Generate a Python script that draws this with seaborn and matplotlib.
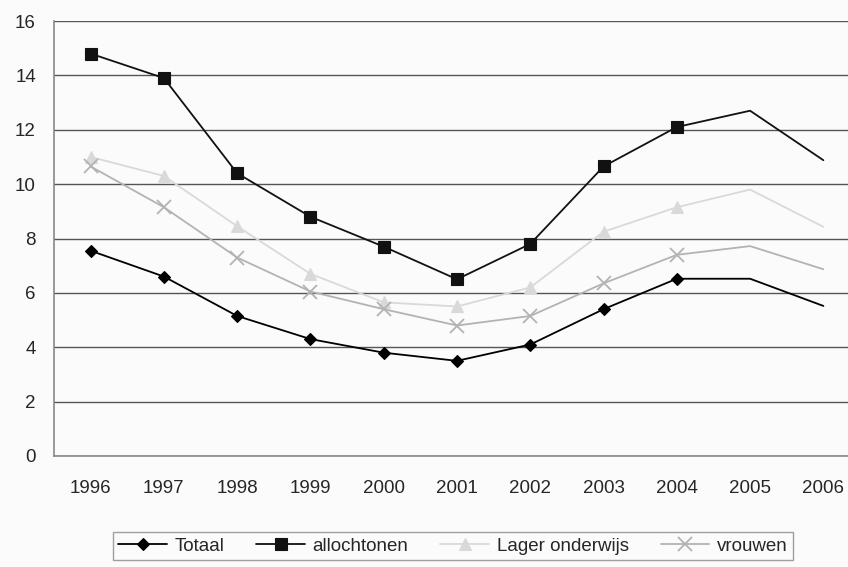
import pandas as pd
import matplotlib
matplotlib.use('Agg')
import matplotlib.pyplot as plt
import seaborn as sns

# Data
years = [1996, 1997, 1998, 1999, 2000, 2001, 2002, 2003, 2004, 2005, 2006]
totaal = [7.55, 6.6, 5.15, 4.3, 3.8, 3.5, 4.1, 5.4, 6.52, 6.52, 5.52]
allochtonen = [14.8, 13.9, 10.4, 8.8, 7.7, 6.5, 7.8, 10.65, 12.1, 12.7, 10.88]
lager_onderwijs = [11.0, 10.3, 8.45, 6.7, 5.65, 5.5, 6.2, 8.25, 9.15, 9.8, 8.43]
vrouwen = [10.65, 9.15, 7.3, 6.05, 5.4, 4.8, 5.15, 6.35, 7.4, 7.72, 6.87]

series = ['Totaal', 'allochtonen', 'Lager onderwijs', 'vrouwen']
values = [totaal, allochtonen, lager_onderwijs, vrouwen]
colors = ['#000000', '#111111', '#d9d9d9', '#b3b3b3']
markers = ['D', 's', '^', 'x']
msizes = [6.5, 8.5, 8.5, 9.5]

df = pd.DataFrame({'jaar': years})
for name, v in zip(series, values):
    df[name] = v

sns.set_style('white')
plt.rcParams['font.family'] = ['Liberation Sans', 'DejaVu Sans']

fig = plt.figure(figsize=(8.48, 5.67), dpi=100)
fig.patch.set_facecolor('#fbfbfb')
ax = fig.add_axes([54 / 848, 111 / 567, (860 - 54) / 848, (456 - 21) / 567])
ax.set_facecolor('#fbfbfb')

for name, c, m, ms in zip(series, colors, markers, msizes):
    # markers only on 1996-2004, as in the source
    sns.lineplot(data=df, x='jaar', y=name, ax=ax, color=c, marker=m,
                 markersize=ms, markevery=list(range(9)), linewidth=1.3,
                 markeredgecolor=c, markeredgewidth=1.3 if m == 'x' else 0.8,
                 label=name, zorder=3)

ax.set_xlim(1995.5, 2006.5)
ax.set_ylim(0, 16)
ax.set_yticks(range(0, 17, 2))
ax.set_xticks(years)
ax.set_xticks([y + 0.5 for y in years[:-1]], minor=True)
ax.tick_params(axis='x', which='major', length=0, pad=17, labelsize=13.5)
ax.tick_params(axis='x', which='minor', length=5, width=0.8, color='#777777', direction='out')
ax.tick_params(axis='y', length=5, width=0.8, color='#777777', direction='out',
               pad=8, labelsize=13.5)
ax.yaxis.grid(True, color='#555555', linewidth=1.0)
ax.set_axisbelow(True)
ax.set_xlabel('')
ax.set_ylabel('')

for side in ['top', 'right']:
    ax.spines[side].set_visible(False)
for side in ['left', 'bottom']:
    ax.spines[side].set_color('#888888')
    ax.spines[side].set_linewidth(1.2)

leg = ax.legend(loc='center', ncol=4, frameon=True,
                fontsize=13.5, fancybox=False, handlelength=2.6,
                columnspacing=1.7, handletextpad=0.4, borderpad=0.3)
leg.set_bbox_to_anchor((453 / 848, 1 - 546 / 567), transform=fig.transFigure)
leg.get_frame().set_edgecolor('#888888')
leg.get_frame().set_facecolor('#fbfbfb')
leg.get_frame().set_linewidth(1.0)

fig.savefig('out.png', dpi=100, facecolor=fig.get_facecolor())
